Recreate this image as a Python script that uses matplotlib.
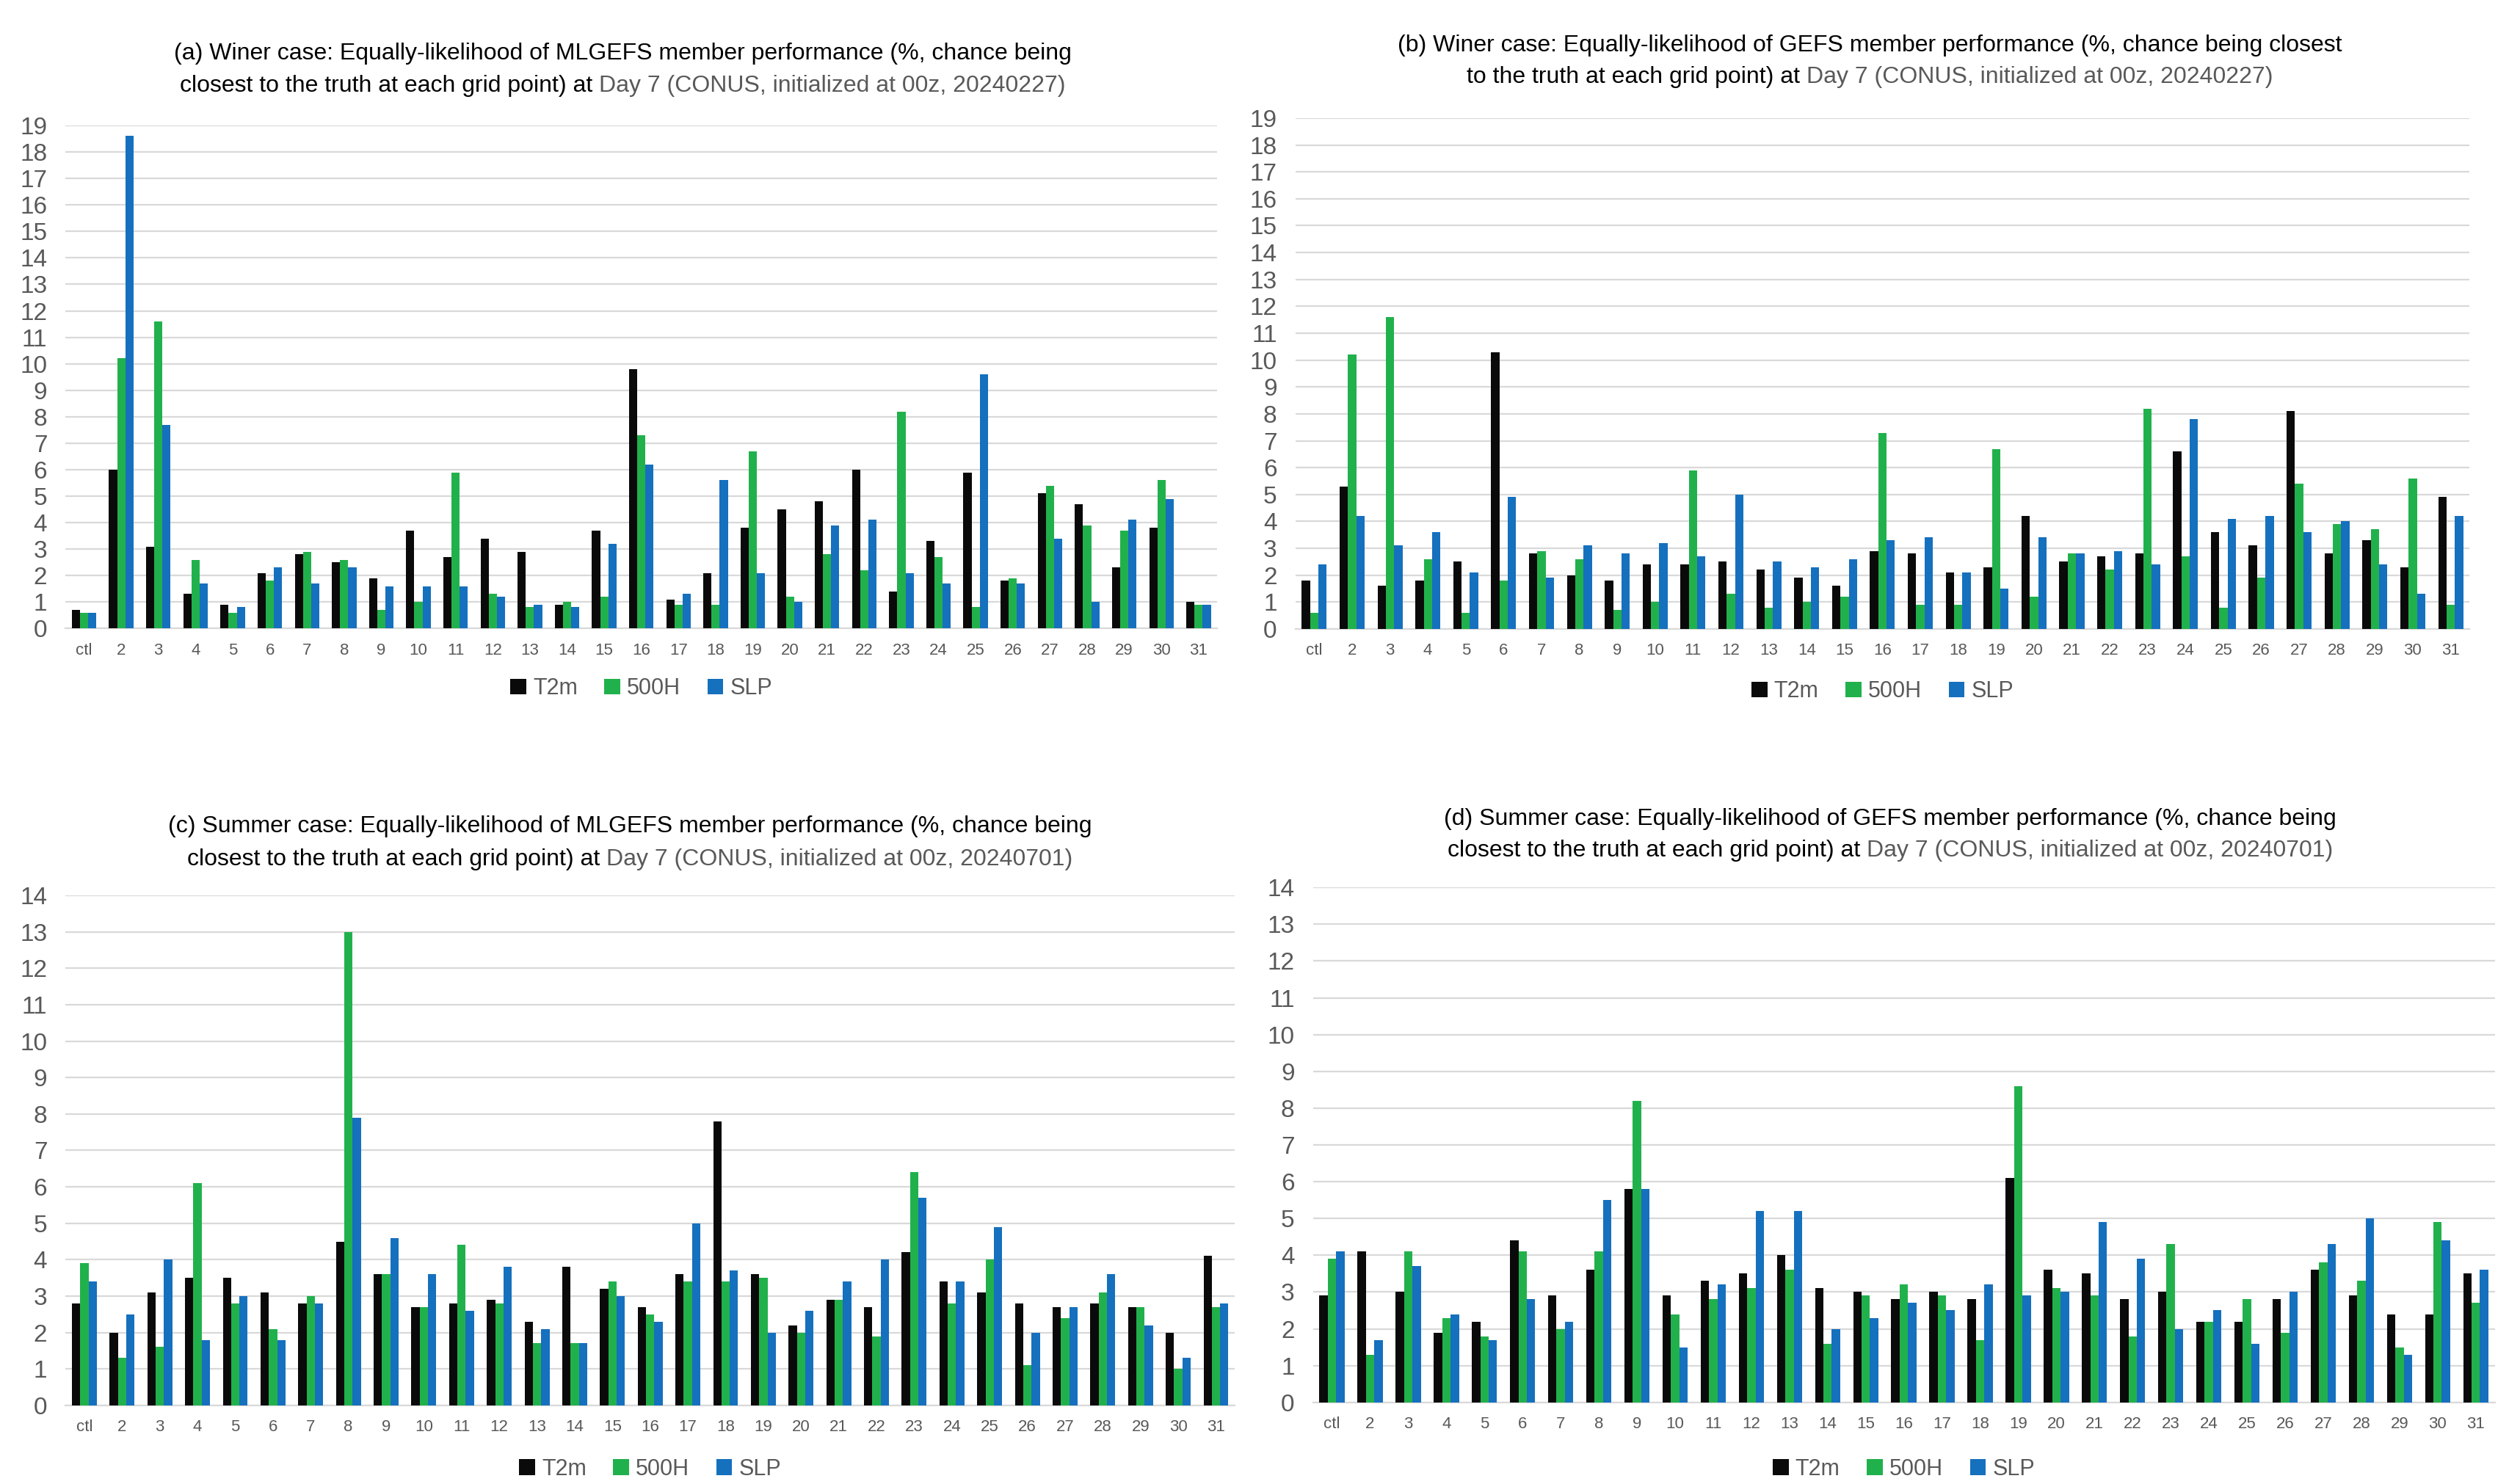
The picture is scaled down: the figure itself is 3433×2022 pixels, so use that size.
import matplotlib
matplotlib.use("Agg")
import matplotlib.pyplot as plt
from matplotlib import font_manager
import numpy as np

# ---- data ----
members = ['ctl'] + [str(i) for i in range(2, 32)]
series = ['T2m', '500H', 'SLP']

# (a) winter, MLGEFS
a_t2m = [0.7, 6.0, 3.1, 1.3, 0.9, 2.1, 2.8, 2.5, 1.9, 3.7, 2.7, 3.4, 2.9, 0.9, 3.7, 9.8,
         1.1, 2.1, 3.8, 4.5, 4.8, 6.0, 1.4, 3.3, 5.9, 1.8, 5.1, 4.7, 2.3, 3.8, 1.0]
a_500h = [0.6, 10.2, 11.6, 2.6, 0.6, 1.8, 2.9, 2.6, 0.7, 1.0, 5.9, 1.3, 0.8, 1.0, 1.2, 7.3,
          0.9, 0.9, 6.7, 1.2, 2.8, 2.2, 8.2, 2.7, 0.8, 1.9, 5.4, 3.9, 3.7, 5.6, 0.9]
a_slp = [0.6, 18.6, 7.7, 1.7, 0.8, 2.3, 1.7, 2.3, 1.6, 1.6, 1.6, 1.2, 0.9, 0.8, 3.2, 6.2,
         1.3, 5.6, 2.1, 1.0, 3.9, 4.1, 2.1, 1.7, 9.6, 1.7, 3.4, 1.0, 4.1, 4.9, 0.9]

# (b) winter, GEFS
b_t2m = [1.8, 5.3, 1.6, 1.8, 2.5, 10.3, 2.8, 2.0, 1.8, 2.4, 2.4, 2.5, 2.2, 1.9, 1.6, 2.9,
         2.8, 2.1, 2.3, 4.2, 2.5, 2.7, 2.8, 6.6, 3.6, 3.1, 8.1, 2.8, 3.3, 2.3, 4.9]
b_500h = [0.6, 10.2, 11.6, 2.6, 0.6, 1.8, 2.9, 2.6, 0.7, 1.0, 5.9, 1.3, 0.8, 1.0, 1.2, 7.3,
          0.9, 0.9, 6.7, 1.2, 2.8, 2.2, 8.2, 2.7, 0.8, 1.9, 5.4, 3.9, 3.7, 5.6, 0.9]
b_slp = [2.4, 4.2, 3.1, 3.6, 2.1, 4.9, 1.9, 3.1, 2.8, 3.2, 2.7, 5.0, 2.5, 2.3, 2.6, 3.3,
         3.4, 2.1, 1.5, 3.4, 2.8, 2.9, 2.4, 7.8, 4.1, 4.2, 3.6, 4.0, 2.4, 1.3, 4.2]

# (c) summer, MLGEFS
c_t2m = [2.8, 2.0, 3.1, 3.5, 3.5, 3.1, 2.8, 4.5, 3.6, 2.7, 2.8, 2.9, 2.3, 3.8, 3.2, 2.7,
         3.6, 7.8, 3.6, 2.2, 2.9, 2.7, 4.2, 3.4, 3.1, 2.8, 2.7, 2.8, 2.7, 2.0, 4.1]
c_500h = [3.9, 1.3, 1.6, 6.1, 2.8, 2.1, 3.0, 13.0, 3.6, 2.7, 4.4, 2.8, 1.7, 1.7, 3.4, 2.5,
          3.4, 3.4, 3.5, 2.0, 2.9, 1.9, 6.4, 2.8, 4.0, 1.1, 2.4, 3.1, 2.7, 1.0, 2.7]
c_slp = [3.4, 2.5, 4.0, 1.8, 3.0, 1.8, 2.8, 7.9, 4.6, 3.6, 2.6, 3.8, 2.1, 1.7, 3.0, 2.3,
         5.0, 3.7, 2.0, 2.6, 3.4, 4.0, 5.7, 3.4, 4.9, 2.0, 2.7, 3.6, 2.2, 1.3, 2.8]

# (d) summer, GEFS
d_t2m = [2.9, 4.1, 3.0, 1.9, 2.2, 4.4, 2.9, 3.6, 5.8, 2.9, 3.3, 3.5, 4.0, 3.1, 3.0, 2.8,
         3.0, 2.8, 6.1, 3.6, 3.5, 2.8, 3.0, 2.2, 2.2, 2.8, 3.6, 2.9, 2.4, 2.4, 3.5]
d_500h = [3.9, 1.3, 4.1, 2.3, 1.8, 4.1, 2.0, 4.1, 8.2, 2.4, 2.8, 3.1, 3.6, 1.6, 2.9, 3.2,
          2.9, 1.7, 8.6, 3.1, 2.9, 1.8, 4.3, 2.2, 2.8, 1.9, 3.8, 3.3, 1.5, 4.9, 2.7]
d_slp = [4.1, 1.7, 3.7, 2.4, 1.7, 2.8, 2.2, 5.5, 5.8, 1.5, 3.2, 5.2, 5.2, 2.0, 2.3, 2.7,
         2.5, 3.2, 2.9, 3.0, 4.9, 3.9, 2.0, 2.5, 1.6, 3.0, 4.3, 5.0, 1.3, 4.4, 3.6]

titles = [
    ("(a) Winer case: Equally-likelihood of MLGEFS member performance (%, chance being",
     "closest to the truth at each grid point) at ", "Day 7 (CONUS, initialized at 00z, 20240227)"),
    ("(b) Winer case: Equally-likelihood of GEFS member performance (%, chance being closest",
     "to the truth at each grid point) at ", "Day 7 (CONUS, initialized at 00z, 20240227)"),
    ("(c) Summer case: Equally-likelihood of MLGEFS member performance (%, chance being",
     "closest to the truth at each grid point) at ", "Day 7 (CONUS, initialized at 00z, 20240701)"),
    ("(d) Summer case: Equally-likelihood of GEFS member performance (%, chance being",
     "closest to the truth at each grid point) at ", "Day 7 (CONUS, initialized at 00z, 20240701)"),
]
panel_data = [(a_t2m, a_500h, a_slp), (b_t2m, b_500h, b_slp),
              (c_t2m, c_500h, c_slp), (d_t2m, d_500h, d_slp)]
ymax = [19, 19, 14, 14]

# ---- style ----
names = {f.name for f in font_manager.fontManager.ttflist}
narrow = 'Liberation Sans Narrow' if 'Liberation Sans Narrow' in names else 'Liberation Sans'
plt.rcParams['font.family'] = [narrow, 'DejaVu Sans']
colors = ['#0a0a0a', '#21b14c', '#1570be']
gray = '#595959'

fig = plt.figure(figsize=(34.33, 20.22), dpi=100)

# axes rectangles (left, bottom, width, height) in figure fractions
rects = [
    (0.026, 1 - 0.4235, 0.457, 0.4235 - 0.0846),
    (0.514, 1 - 0.4238, 0.466, 0.4238 - 0.0796),
    (0.026, 1 - 0.947, 0.464, 0.947 - 0.6034),
    (0.521, 1 - 0.945, 0.469, 0.945 - 0.598),
]
title_y = [(0.036, 0.058), (0.0305, 0.052), (0.557, 0.579), (0.552, 0.573)]
title_x = [0.247, 0.742, 0.25, 0.75]
legend_y = [0.464, 0.466, 0.99, 0.99]

x = np.arange(len(members))
w = 0.22
renderer = fig.canvas.get_renderer()

for i in range(4):
    ax = fig.add_axes(rects[i])
    for k, vals in enumerate(panel_data[i]):
        ax.bar(x + (k - 1) * w, vals, width=w, color=colors[k], label=series[k], zorder=3)
    ax.set_xlim(-0.5, len(members) - 0.5)
    ax.set_ylim(0, ymax[i])
    ax.set_yticks(range(0, ymax[i] + 1))
    ax.set_xticks(x)
    ax.set_xticklabels(members)
    ax.tick_params(axis='y', labelsize=24, colors=gray, length=0, pad=18)
    ax.tick_params(axis='x', labelsize=16, colors=gray, length=0, pad=14)
    ax.grid(axis='y', color='#d9d9d9', linewidth=1.6, zorder=0)
    for s in ['top', 'right', 'left']:
        ax.spines[s].set_visible(False)
    ax.spines['bottom'].set_color('#d9d9d9')
    ax.spines['bottom'].set_linewidth(1.6)

    leg = fig.legend(*ax.get_legend_handles_labels(), loc='center',
                     bbox_to_anchor=(rects[i][0] + rects[i][2] / 2, 1 - legend_y[i]),
                     ncol=3, frameon=False, fontsize=22, handlelength=0.7, handleheight=0.7,
                     handletextpad=0.3, columnspacing=1.2)
    for t in leg.get_texts():
        t.set_color(gray)

    # title: first line black, second line black + gray
    l1, l2a, l2b = titles[i]
    fig.text(title_x[i], 1 - title_y[i][0], l1, ha='center', va='center', fontsize=23, color='black')
    ta = fig.text(0, 1 - title_y[i][1], l2a, ha='left', va='center', fontsize=23, color='black')
    tb = fig.text(0, 1 - title_y[i][1], l2b, ha='left', va='center', fontsize=23, color=gray)
    wa = ta.get_window_extent(renderer).width / fig.bbox.width
    wb = tb.get_window_extent(renderer).width / fig.bbox.width
    x0 = title_x[i] - (wa + wb) / 2
    ta.set_x(x0)
    tb.set_x(x0 + wa)

fig.savefig('out.png', dpi=100, facecolor='white')
